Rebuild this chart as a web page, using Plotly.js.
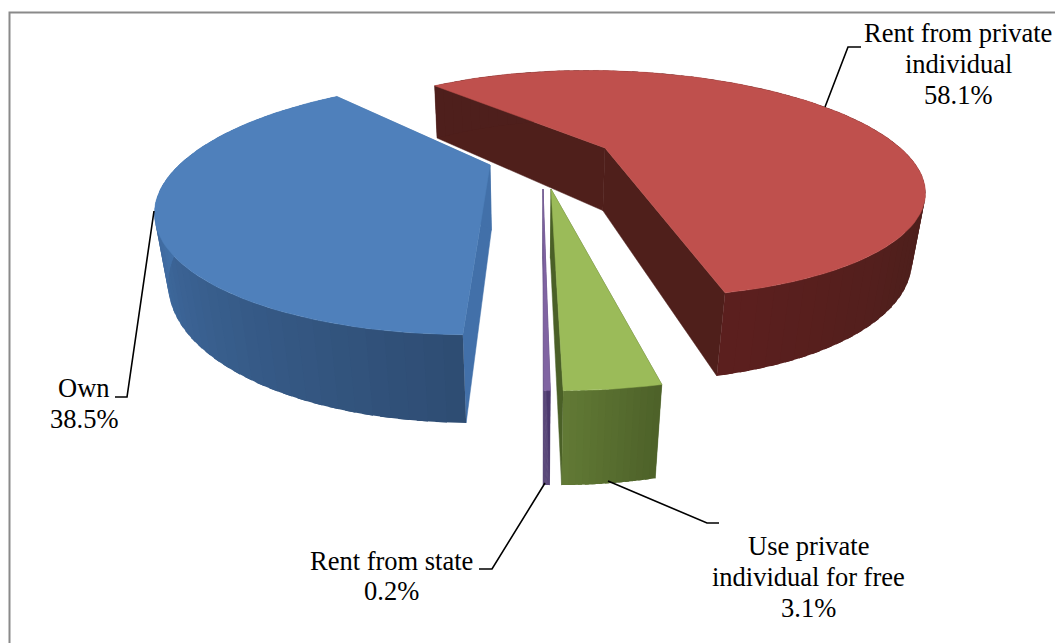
<!DOCTYPE html>
<html>
<head>
<meta charset="utf-8">
<script src="https://cdn.plot.ly/plotly-3.0.1.min.js"></script>
<style>html,body{margin:0;padding:0;background:#fff}#chart{width:1055px;height:643px}</style>
</head>
<body>
<div id="chart"></div>
<script>
// Housing tenure shares
const categories = ["Rent from private individual", "Use private individual for free", "Rent from state", "Own"];
const shares = [58.1, 3.1, 0.2, 38.5];

// Text blocks, one entry per drawn line
const labelLines = [
  ["Rent from private", "individual", "58.1%"],
  ["Use private", "individual for free", "3.1%"],
  ["Rent from state", "0.2%"],
  ["Own", "38.5%"]
];
const labelCentres = [[958, 33, 31], [808, 546, 31], [391, 561, 30], [84, 388, 31]];
const leaderPaths = [
  "M825,107 L848,47 L861,47",
  "M608,481 L707,523 L719,523",
  "M545,483 L492,569 L479,569",
  "M154,211 L127,397 L115,397"
];

// Slice styling and placement of each exploded wedge
const apexes = [[605, 148], [551, 189], [543, 189], [490, 165]];
const startAngles = [-41, 168.6, 179.8, 180.7];
const topColors = ["#bf504d", "#9bbb59", "#8064a2", "#4f80bb"];
const cutColors = ["#4f1f1b", "#4a6027", "#4d3a6f", "#4270a9"];
const sideFrom = ["#4e1f1c", "#4d6129", "#4d3a6f", "#4575af"];
const sideTo = ["#5b1f1e", "#627a35", "#4d3a6f", "#2e4c72"];

// Pinhole camera looking down on the pie
const cam = {u0: 533, v0: 190, f: 860, dist: 2.55, elev: 23 * Math.PI / 180};
const radius = 0.99, thickness = 0.23, rad = Math.PI / 180;
const ce = Math.cos(cam.elev), se = Math.sin(cam.elev);

function project(X, Y, Z) {
  const depth = (cam.dist * ce - Y) * ce + (cam.dist * se - Z) * se;
  const yc = (Y - cam.dist * ce) * se + (cam.dist * se - Z) * ce;
  return [cam.u0 + cam.f * X / depth, cam.v0 + cam.f * yc / depth];
}
function onTopPlane(u, v) {
  const dx = u - cam.u0, dy = v - cam.v0;
  const dirY = -cam.f * ce + dy * se, dirZ = -cam.f * se - dy * ce;
  const t = cam.dist * se / -dirZ;
  return [dx * t, cam.dist * ce + dirY * t];
}
function mix(a, b, t) {
  const p = s => [1, 3, 5].map(i => parseInt(s.substr(i, 2), 16));
  const A = p(a), B = p(b);
  return "rgb(" + A.map((c, i) => Math.round(c + (B[i] - c) * t)).join(",") + ")";
}
function polygon(points, color, edge) {
  return {
    type: "scatter", mode: "lines", fill: "toself", fillcolor: color,
    x: points.map(p => p[0]), y: points.map(p => p[1]),
    line: {color: color, width: edge}, hoverinfo: "skip", showlegend: false
  };
}

const drawOrder = [0, 3, 2, 1];
const traces = [];
drawOrder.forEach(i => {
  const sweep = shares[i] / 100 * 360;
  const [ox, oy] = onTopPlane(apexes[i][0], apexes[i][1]);
  const rim = (deg, z) => project(ox + radius * Math.sin(deg * rad), oy - radius * Math.cos(deg * rad), z);
  const a0 = startAngles[i], a1 = a0 + sweep;

  // Cut faces from the apex to the rim
  [a0, a1].forEach(deg => {
    traces.push(polygon([project(ox, oy, 0), rim(deg, 0), rim(deg, -thickness), project(ox, oy, -thickness), project(ox, oy, 0)], cutColors[i], 0.5));
  });

  // Curved wall, banded so the shade runs along the rim; each band laps under the next
  const bands = Math.max(14, Math.ceil(sweep / 2.5));
  for (let b = 0; b < bands; b++) {
    const d0 = a0 + sweep * b / bands;
    const d1 = Math.min(a1, a0 + sweep * (b + 1.6) / bands);
    const steps = [d0, (d0 + d1) / 2, d1];
    const pts = steps.map(d => rim(d, 0)).concat(steps.slice().reverse().map(d => rim(d, -thickness)));
    pts.push(pts[0]);
    const mid = a0 + sweep * (b + 0.5) / bands;
    let t;
    if (i === 3) t = Math.min(1, Math.max(0, (270 - mid) / 90));
    else if (i === 0) t = Math.min(1, Math.max(0, (mid - 125) / 40));
    else t = (b + 0.5) / bands;
    traces.push(polygon(pts, mix(sideFrom[i], sideTo[i], t), 0));
  }

  // Top face
  const top = [project(ox, oy, 0)];
  const n = Math.max(2, Math.ceil(sweep / 2));
  for (let s = 0; s <= n; s++) top.push(rim(a0 + sweep * s / n, 0));
  top.push(top[0]);
  traces.push(polygon(top, topColors[i], 0.5));
});

const annotations = [];
labelLines.forEach((lines, i) => {
  lines.forEach((text, k) => {
    annotations.push({
      x: labelCentres[i][0], y: labelCentres[i][1] + k * labelCentres[i][2],
      xref: "x", yref: "y", text: text, showarrow: false, xanchor: "center", yanchor: "middle",
      font: {family: "Liberation Serif", size: 26.5, color: "#000"}
    });
  });
});

const shapes = leaderPaths.map(p => ({type: "path", path: p, xref: "x", yref: "y", line: {color: "#000", width: 1.6}}));
shapes.push({type: "path", path: "M9.5,643 L9.5,12.5 L1055,12.5", xref: "x", yref: "y", line: {color: "#8a8a8a", width: 2}});

Plotly.newPlot("chart", traces, {
  width: 1055, height: 643,
  margin: {l: 0, r: 0, t: 0, b: 0},
  paper_bgcolor: "#fff", plot_bgcolor: "#fff", showlegend: false,
  xaxis: {range: [0, 1055], visible: false, fixedrange: true},
  yaxis: {range: [643, 0], visible: false, fixedrange: true},
  annotations: annotations, shapes: shapes
}, {displayModeBar: false, staticPlot: true});
</script>
</body>
</html>
